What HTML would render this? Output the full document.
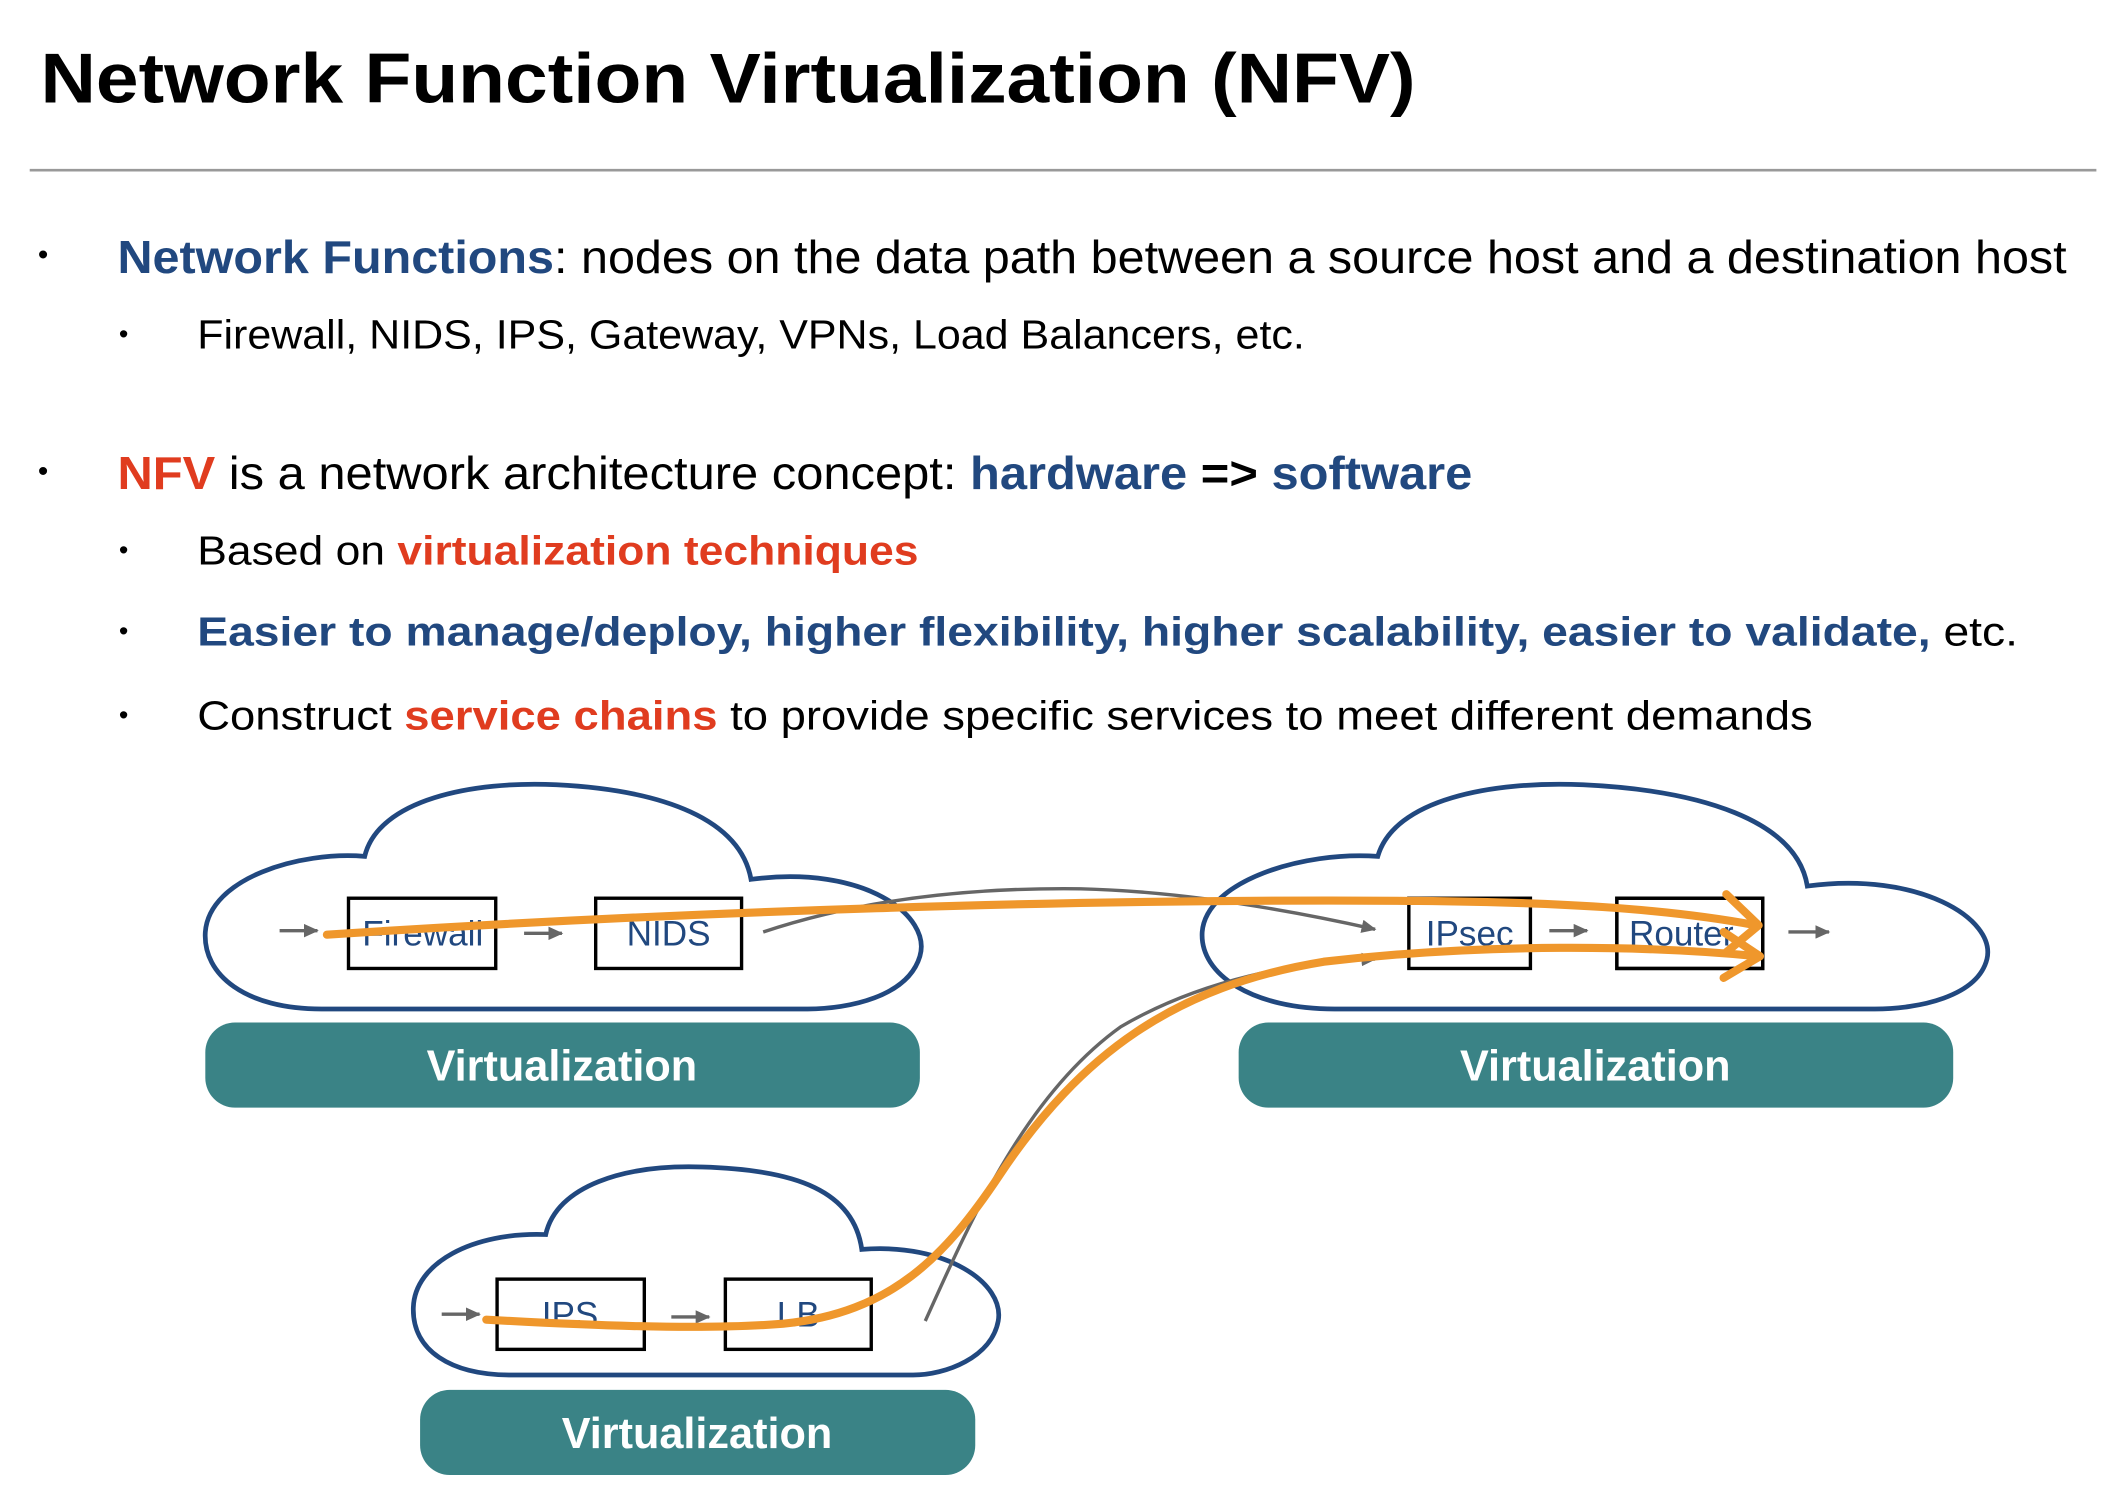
<!DOCTYPE html>
<html><head><meta charset="utf-8"><style>
html,body{margin:0;padding:0;background:#fff;}
svg{display:block;}
text{font-family:"Liberation Sans",sans-serif;}
</style></head><body>
<svg width="2118" height="1492" viewBox="0 0 1568 1104.6" preserveAspectRatio="none" xmlns="http://www.w3.org/2000/svg">
<defs>
<marker id="ga" markerWidth="11" markerHeight="10" refX="10" refY="5" orient="auto" markerUnits="userSpaceOnUse"><path d="M0,0 L11,5 L0,10 Z" fill="#666"/></marker>
</defs>
<text x="30" y="76" font-size="52" font-weight="bold" fill="#000" textLength="1018" lengthAdjust="spacingAndGlyphs">Network Function Virtualization (NFV)</text>
<line x1="22" y1="126" x2="1552" y2="126" stroke="#999" stroke-width="2"/>

<g font-size="34">
<text x="28" y="196" font-size="22">•</text>
<text x="87" y="202" textLength="1443" lengthAdjust="spacingAndGlyphs"><tspan fill="#21487f" font-weight="bold">Network Functions</tspan><tspan fill="#000">: nodes on the data path between a source host and a destination host</tspan></text>
<text x="28" y="356" font-size="22">•</text>
<text x="87" y="362" textLength="1003" lengthAdjust="spacingAndGlyphs"><tspan fill="#e03c1f" font-weight="bold">NFV</tspan><tspan fill="#000"> is a network architecture concept: </tspan><tspan fill="#21487f" font-weight="bold">hardware</tspan><tspan font-weight="bold" fill="#000"> =&gt; </tspan><tspan fill="#21487f" font-weight="bold">software</tspan></text>
</g>
<g font-size="30">
<text x="88" y="254" font-size="20">•</text>
<text x="146" y="258" fill="#000" textLength="820" lengthAdjust="spacingAndGlyphs">Firewall, NIDS, IPS, Gateway, VPNs, Load Balancers, etc.</text>
<text x="88" y="414" font-size="20">•</text>
<text x="146" y="418" textLength="534" lengthAdjust="spacingAndGlyphs"><tspan fill="#000">Based on </tspan><tspan fill="#e03c1f" font-weight="bold">virtualization techniques</tspan></text>
<text x="88" y="474" font-size="20">•</text>
<text x="146" y="478" textLength="1348" lengthAdjust="spacingAndGlyphs"><tspan fill="#21487f" font-weight="bold">Easier to manage/deploy, higher flexibility, higher scalability, easier to validate,</tspan><tspan fill="#000"> etc.</tspan></text>
<text x="88" y="536" font-size="20">•</text>
<text x="146" y="540" textLength="1196" lengthAdjust="spacingAndGlyphs"><tspan fill="#000">Construct </tspan><tspan fill="#e03c1f" font-weight="bold">service chains</tspan><tspan fill="#000"> to provide specific services to meet different demands</tspan></text>
</g>

<!-- clouds -->
<g fill="none" stroke="#21487f" stroke-width="3.5">
<path d="M270 634 C280 592,350 578,412 581 C492 585,548 607,556 651 C640 640,690 678,681 708 C672 738,628 747,598 747 L238 747 C182 747,150 722,152 690 C155 650,222 630,270 634 Z"/>
<path d="M1020 634 C1032 592,1104 578,1172 581 C1258 585,1330 607,1338 656 C1420 645,1478 680,1471 710 C1464 738,1420 747,1388 747 L988 747 C928 747,888 722,890 690 C893 652,965 630,1020 634 Z"/>
<path d="M404 914 C412 878,462 862,520 864 C590 866,632 882,638 925 C700 920,744 950,739 978 C734 1005,700 1018,676 1018 L378 1018 C334 1018,305 1000,306 968 C307 935,350 912,404 914 Z"/>
</g>

<!-- boxes -->
<g fill="#fff" stroke="#000" stroke-width="2.5">
<rect x="258" y="665" width="109" height="52"/>
<rect x="441" y="665" width="108" height="52"/>
<rect x="1043" y="665" width="90" height="52"/>
<rect x="1197" y="665" width="108" height="52"/>
<rect x="368" y="947" width="109" height="52"/>
<rect x="537" y="947" width="108" height="52"/>
</g>
<g font-size="26" fill="#21487f" text-anchor="middle">
<text x="313" y="700">Firewall</text>
<text x="495" y="700">NIDS</text>
<text x="1088" y="700">IPsec</text>
<text x="1245" y="700">Router</text>
<text x="422" y="982">IPS</text>
<text x="591" y="982">LB</text>
</g>
<rect x="1283" y="667" width="20" height="48" fill="#fff"/>
<rect x="1197" y="665" width="108" height="52" fill="none" stroke="#000" stroke-width="2.5"/>

<!-- gray arrows -->
<g stroke="#666" stroke-width="2.5" fill="none" marker-end="url(#ga)">
<line x1="207" y1="689" x2="235" y2="689"/>
<line x1="388" y1="691" x2="416" y2="691"/>
<line x1="1147" y1="689" x2="1175" y2="689"/>
<line x1="1324" y1="690" x2="1354" y2="690"/>
<line x1="327" y1="973" x2="355" y2="973"/>
<line x1="497" y1="975" x2="525" y2="975"/>
<path d="M565 690 C640 665,720 657,800 658 C880 660,960 675,1018 688"/>
<path d="M685 978 C720 900,760 810,830 760 C890 725,960 712,1018 710"/>
</g>

<!-- orange -->
<g stroke="#ef972c" stroke-width="6" fill="none" stroke-linecap="round" stroke-linejoin="round">
<path d="M242 692 C500 675,800 665,1050 667 C1150 668,1230 672,1300 685"/>
<path d="M1278 662 L1302 685 L1278 705"/>
<path d="M360 977 C430 981,520 985,580 980 C660 972,700 930,740 870 C800 780,870 730,980 712 C1100 698,1220 700,1302 708"/>
<path d="M1276 690 L1303 708 L1276 724"/>
</g>

<!-- virtualization bars -->
<g fill="#3a8386">
<rect x="152" y="757" width="529" height="63" rx="22"/>
<rect x="917" y="757" width="529" height="63" rx="22"/>
<rect x="311" y="1029" width="411" height="63" rx="22"/>
</g>
<g font-size="32" font-weight="bold" fill="#fff" text-anchor="middle">
<text x="416" y="800">Virtualization</text>
<text x="1181" y="800">Virtualization</text>
<text x="516" y="1072">Virtualization</text>
</g>
</svg>
</body></html>
